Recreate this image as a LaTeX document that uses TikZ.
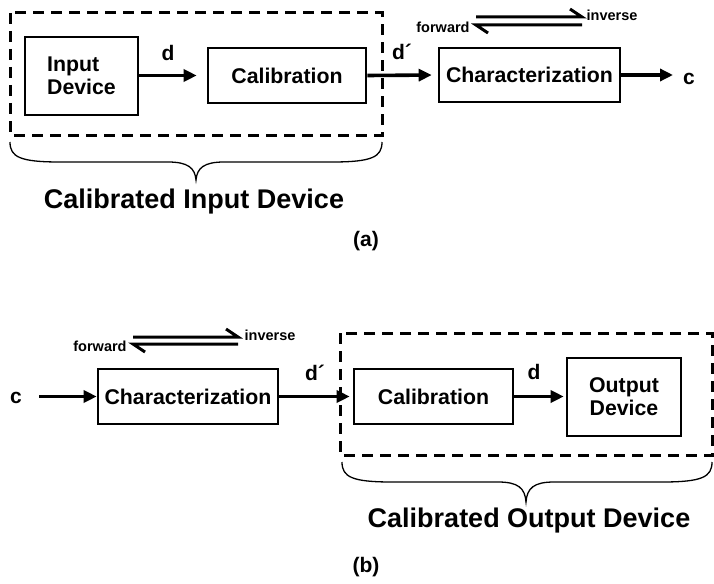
\documentclass[tikz,border=0pt]{standalone}
\usepackage{fontspec}
\setmainfont{Liberation Sans}
\usetikzlibrary{arrows.meta}
\tikzset{
  blk/.style={draw, line width=2.6pt, inner sep=0pt, font=\fontsize{21.3}{23}\selectfont\bfseries, align=center},
  lbl/.style={inner sep=0pt, font=\fontsize{21}{23}\selectfont\bfseries},
  small/.style={inner sep=0pt, font=\fontsize{14.5}{16}\selectfont\bfseries},
  big/.style={inner sep=0pt, font=\fontsize{27}{30}\selectfont\bfseries},
  arr/.style={line width=3.6pt, -{Triangle[length=13pt,width=12pt]}},
  dbox/.style={line width=3pt, dash pattern=on 11pt off 7pt},
  bracestyle/.style={line width=1.3pt},
  harp/.style={line width=3pt},
}
\begin{document}
\begin{tikzpicture}[x=1pt,y=-1pt]
\useasboundingbox (0,0) rectangle (714,583);
% ---------- (a) ----------
\draw[dbox] (10,13) rectangle (382,135);
\node[blk, minimum width=113pt, minimum height=78pt, align=left] (indev) at (81.5,76) {Input\\Device};
\node[blk, minimum width=158pt, minimum height=55pt] (cala) at (287,75.5) {Calibration};
\node[blk, minimum width=181pt, minimum height=54pt] (chara) at (529.5,75) {Characterization};
\node[lbl] (da) at (168,53) {d};
\node[lbl] (dpa) at (402,52) {d´};
\node[lbl] (ca) at (689,79) {c};
\coordinate (caend) at (673,76);
\draw[arr, shorten >=10pt] (indev.east |- cala) -- (cala.west);
\draw[arr, shorten >=6pt] (cala.east) -- (chara.west);
\draw[arr] (chara.east) -- (chara.east -| caend);
% forward / inverse
\node[small] (fwa) at (443,27) {forward};
\node[small] (inva) at (612,15) {inverse};
\draw[harp] (476,17) -- (582,17) -- (570,9);
\draw[harp] (488,33) -- (476,25) -- (582,25);
% brace
\draw[bracestyle] (10,142) .. controls (10,157) and (20,162) .. (60,162) -- (168,162)
  .. controls (188,162) and (195,168) .. (196,180)
  .. controls (197,168) and (204,162) .. (224,162) -- (332,162)
  .. controls (372,162) and (382,157) .. (382,142);
\node[big] (cida) at (194,202) {Calibrated Input Device};
\node[lbl] (laba) at (366,241) {(a)};
% ---------- (b) ----------
\draw[dbox] (340,333) rectangle (712.5,455);
\node[lbl] (cb) at (16,398) {c};
\coordinate (cbstart) at (39,397);
\node[blk, minimum width=180pt, minimum height=55pt] (charb) at (188,396.5) {Characterization};
\node[blk, minimum width=159pt, minimum height=55pt] (calb) at (433.5,396.5) {Calibration};
\node[blk, minimum width=114pt, minimum height=78pt] (outdev) at (624,397) {Output\\Device};
\node[lbl] (dpb) at (315,373) {d´};
\node[lbl] (db) at (534,372) {d};
\draw[arr] (cbstart |- charb) -- (charb.west);
\draw[arr, shorten >=3pt] (charb.east) -- (calb.west);
\draw[arr, shorten >=2pt] (calb.east) -- (outdev.west |- calb);
% forward / inverse
\node[small] (fwb) at (100,346) {forward};
\node[small] (invb) at (270,335) {inverse};
\draw[harp] (133,337) -- (238,337) -- (226,329);
\draw[harp] (145,352) -- (133,344) -- (238,344);
% brace
\draw[bracestyle] (342,462) .. controls (342,477) and (352,482) .. (392,482) -- (498,482)
  .. controls (518,482) and (525,488) .. (526,502)
  .. controls (527,488) and (534,482) .. (554,482) -- (662,482)
  .. controls (702,482) and (712,477) .. (712,462);
\node[big] (codb) at (529,521) {Calibrated Output Device};
\node[lbl] (labb) at (366,567) {(b)};
\end{tikzpicture}
\end{document}
